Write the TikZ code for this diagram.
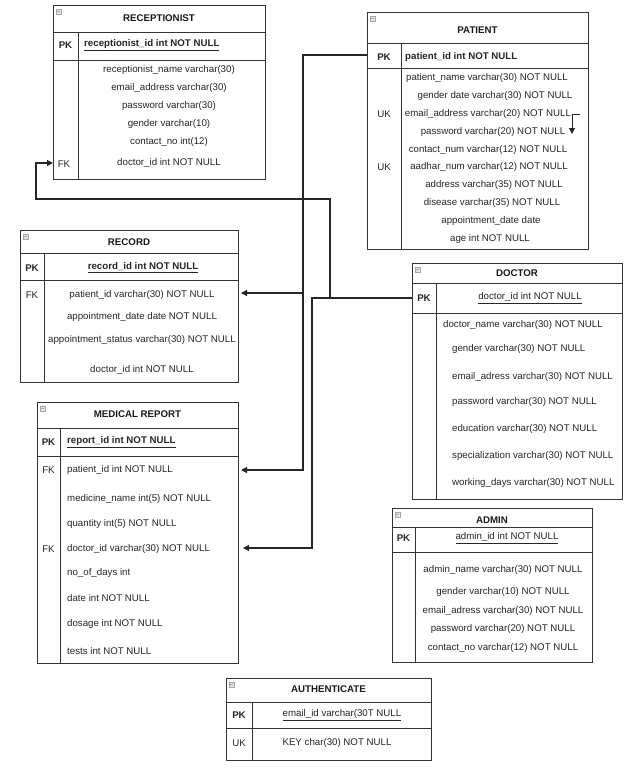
\documentclass[tikz,border=0pt]{standalone}
\usepackage{fontspec}
\setmainfont{Liberation Sans}
\usetikzlibrary{arrows.meta}
\tikzset{
  box/.style={draw=black!80, line width=0.9pt, anchor=north west, inner sep=0pt, fill=white},
  boxline/.style={draw=black!80, line width=0.9pt},
  ttl/.style={font=\fontsize{9.7}{11}\selectfont\bfseries, text=black!90, inner sep=0pt},
  txt/.style={font=\fontsize{9.7}{11}\selectfont, text=black!85, inner sep=0pt},
  pktxt/.style={font=\fontsize{9.7}{11}\selectfont\bfseries, text=black!85, inner sep=0pt},
  keylbl/.style={font=\fontsize{9.7}{11}\selectfont, text=black!85, inner sep=0pt},
  icon/.style={draw=gray!70, fill=gray!20, line width=0.4pt, minimum size=5pt, inner sep=0pt},
  conn/.style={draw=black!85, line width=1.2pt},
  arr/.style={conn, -{Triangle[length=6pt,width=6pt]}},
}
% name, x1, y1, x2, y2, title bottom, pk bottom, divider x
\newcommand{\erbox}[8]{%
  \node[box, minimum width={(#4-#2)*1pt}, minimum height={(#5-#3)*1pt}] (#1) at (#2,#3) {};
  \draw[boxline] (#2,#6) -- (#4,#6);
  \draw[boxline] (#2,#7) -- (#4,#7);
  \draw[boxline] (#8,#6) -- (#8,#5);
  \node[icon] (#1icon) at ({#2+5.5},{#3+6.5}) {};
  \draw[gray!70, line width=0.4pt] ({#2+4},{#3+6.5}) -- ({#2+7},{#3+6.5});
}
\begin{document}
\begin{tikzpicture}[x=1pt,y=-1pt]
\useasboundingbox (0,0) rectangle (633,776);
\fill[white] (0,0) rectangle (633,776);

% ---------------- RECEPTIONIST
\erbox{recep}{53}{5}{265}{179}{32}{60}{78}
\node[ttl] (recept) at (159,18) {RECEPTIONIST};
\node[keylbl,font=\fontsize{9.7}{11}\selectfont\bfseries] (recepk) at (65.5,45) {PK};
\node[pktxt, anchor=west] (recepkt) at (84,45) {\underline{receptionist\_id int NOT NULL}};
\node[txt] (rc1) at (169,70) {receptionist\_name varchar(30)};
\node[txt] (rc2) at (169,88) {email\_address varchar(30)};
\node[txt] (rc3) at (169,106) {password varchar(30)};
\node[txt] (rc4) at (169,124) {gender varchar(10)};
\node[txt] (rc5) at (169,142) {contact\_no int(12)};
\node[txt] (rc6) at (169,163) {doctor\_id int NOT NULL};
\node[keylbl] (recfkl) at (64,164) {FK};

% ---------------- PATIENT
\erbox{pat}{367}{12}{588}{249}{43}{68}{401}
\node[ttl] (patt) at (477.5,30) {PATIENT};
\node[keylbl,font=\fontsize{9.7}{11}\selectfont\bfseries] (patpk) at (384,57) {PK};
\node[pktxt, anchor=west] (patpkt) at (405,57) {patient\_id int NOT NULL};
\node[txt] (p1) at (487,78) {patient\_name varchar(30) NOT NULL};
\node[txt] (p2) at (495,96) {gender date varchar(30) NOT NULL};
\node[txt] (p3) at (488,114) {email\_address varchar(20) NOT NULL};
\node[txt] (p4) at (493,132) {password varchar(20) NOT NULL};
\node[txt] (p5) at (488,150) {contact\_num varchar(12) NOT NULL};
\node[txt] (p6) at (489,167) {aadhar\_num varchar(12) NOT NULL};
\node[txt] (p7) at (494,185) {address varchar(35) NOT NULL};
\node[txt] (p8) at (492,203) {disease varchar(35) NOT NULL};
\node[txt] (p9) at (491,221) {appointment\_date date};
\node[txt] (p10) at (490,239) {age int NOT NULL};
\node[keylbl] (patuk1) at (384,114) {UK};
\node[keylbl] (patuk2) at (384,167) {UK};
\coordinate (selfa) at (580,114);
\coordinate (selfb) at (572,134);
\draw[arr, line width=1pt] (selfa) -- (572,114) -- (selfb);

% ---------------- RECORD
\erbox{rec}{20}{230}{238}{382}{253}{280}{44}
\node[ttl] (rect) at (129,242) {RECORD};
\node[keylbl,font=\fontsize{9.7}{11}\selectfont\bfseries] (recpk) at (32,268) {PK};
\node[pktxt] (recpkt) at (143,268) {\underline{record\_id int NOT NULL}};
\node[keylbl] (recfk) at (32,295) {FK};
\node[txt] (r1) at (142,295) {patient\_id varchar(30) NOT NULL};
\node[txt] (r2) at (142,317) {appointment\_date date NOT NULL};
\node[txt] (r3) at (142,340) {appointment\_status varchar(30) NOT NULL};
\node[txt] (r4) at (142,370) {doctor\_id int NOT NULL};

% ---------------- DOCTOR
\erbox{doc}{412}{263}{622}{499}{283}{313}{436}
\node[ttl] (doct) at (517,273) {DOCTOR};
\node[keylbl,font=\fontsize{9.7}{11}\selectfont\bfseries] (docpk) at (424,298) {PK};
\node[txt] (docpkt) at (530,298) {\underline{doctor\_id int NOT NULL}};
\node[txt, anchor=west] (d1) at (443,325) {doctor\_name varchar(30) NOT NULL};
\node[txt, anchor=west] (d2) at (452,349) {gender varchar(30) NOT NULL};
\node[txt, anchor=west] (d3) at (452,377) {email\_adress varchar(30) NOT NULL};
\node[txt, anchor=west] (d4) at (452,402) {password varchar(30) NOT NULL};
\node[txt, anchor=west] (d5) at (452,429) {education varchar(30) NOT NULL};
\node[txt, anchor=west] (d6) at (452,456) {specialization varchar(30) NOT NULL};
\node[txt, anchor=west] (d7) at (452,483) {working\_days varchar(30) NOT NULL};

% ---------------- MEDICAL REPORT
\erbox{mr}{37}{402}{238}{663}{428}{456}{60}
\node[ttl] (mrt) at (137.5,414) {MEDICAL REPORT};
\node[keylbl,font=\fontsize{9.7}{11}\selectfont\bfseries] (mrpk) at (48.5,442) {PK};
\node[pktxt, anchor=west] (mrpkt) at (67,442) {\underline{report\_id int NOT NULL}};
\node[keylbl] (mrfk1l) at (48.5,470) {FK};
\node[keylbl] (mrfk2l) at (48.5,549) {FK};
\node[txt, anchor=west] (m1) at (67,470) {patient\_id int NOT NULL};
\node[txt, anchor=west] (m2) at (67,499) {medicine\_name int(5) NOT NULL};
\node[txt, anchor=west] (m3) at (67,524) {quantity int(5) NOT NULL};
\node[txt, anchor=west] (m4) at (67,549) {doctor\_id varchar(30) NOT NULL};
\node[txt, anchor=west] (m5) at (67,573) {no\_of\_days int};
\node[txt, anchor=west] (m6) at (67,598) {date int NOT NULL};
\node[txt, anchor=west] (m7) at (67,624) {dosage int NOT NULL};
\node[txt, anchor=west] (m8) at (67,651) {tests int NOT NULL};

% ---------------- ADMIN
\erbox{adm}{392}{508}{592}{662}{527}{552}{415}
\node[ttl] (admt) at (492,520) {ADMIN};
\node[keylbl,font=\fontsize{9.7}{11}\selectfont\bfseries] (admpk) at (403.5,538) {PK};
\node[txt] (admpkt) at (507,538) {\underline{admin\_id int NOT NULL}};
\node[txt] (a1) at (503,570) {admin\_name varchar(30) NOT NULL};
\node[txt] (a2) at (503,592) {gender varchar(10) NOT NULL};
\node[txt] (a3) at (503,611) {email\_adress varchar(30) NOT NULL};
\node[txt] (a4) at (503,629) {password varchar(20) NOT NULL};
\node[txt] (a5) at (503,648) {contact\_no varchar(12) NOT NULL};

% ---------------- AUTHENTICATE
\erbox{auth}{226}{678}{431}{760}{702}{728}{252}
\node[ttl] (autht) at (328.5,689) {AUTHENTICATE};
\node[keylbl,font=\fontsize{9.7}{11}\selectfont\bfseries] (authpk) at (239,715) {PK};
\node[txt] (authpkt) at (342,715) {\underline{email\_id varchar(30T NULL}};
\node[keylbl] (authuk) at (239,743) {UK};
\node[txt] (au1) at (337,743) {KEY char(30) NOT NULL};

% ---------------- connectors
\coordinate (patpkc) at (367,55);
\coordinate (recfkc) at (241,293);
\coordinate (mrfk1c) at (241,470);
\coordinate (docpkc) at (412,298);
\coordinate (mrfk2c) at (243,548);
\coordinate (recepfkc) at (53,163);
\coordinate (pj) at (303,293);
\coordinate (dj) at (330,298);

\draw[arr] (patpkc) -- (303,55) -- (pj) -- (recfkc);
\draw[arr] (pj) -- (303,470) -- (mrfk1c);
\draw[arr] (docpkc) -- (312,298) -- (312,548) -- (mrfk2c);
\draw[arr] (dj) -- (330,199) -- (36,199) -- (36,163) -- (recepfkc);
\end{tikzpicture}
\end{document}
